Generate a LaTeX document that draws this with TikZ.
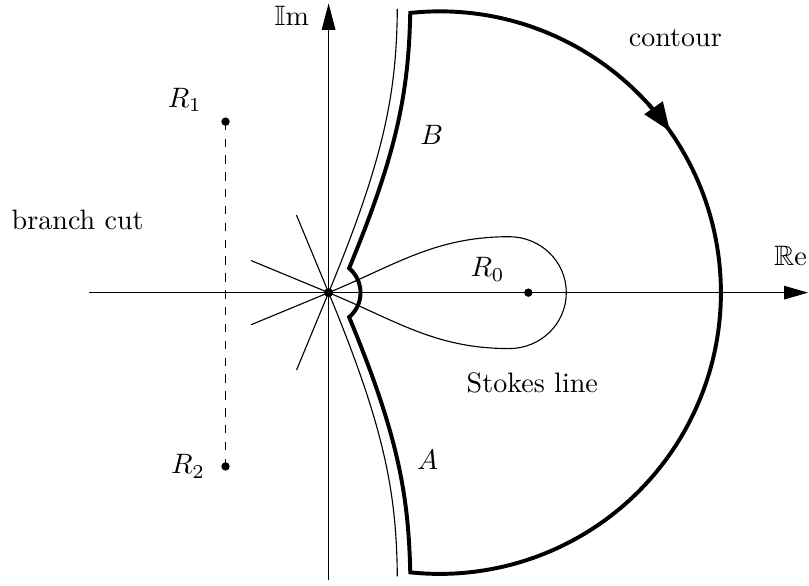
\documentclass[tikz,border=0pt]{standalone}
\usepackage{amsmath,amssymb}
\usetikzlibrary{arrows.meta,calc}

\begin{document}
\begin{tikzpicture}

% Parameters
\def\cx{1.39}   % centre of the big arc
\def\cR{3.52}   % radius of the big arc
\def\sr{0.4}    % radius of the small arc round the origin
\def\rl{1.05}   % length of the short Stokes rays

\useasboundingbox (-4.1125,-3.6625) rectangle (6.0125,3.6625);

% Axes
\draw[-{Triangle[length=0.3cm,width=0.17cm]}] (-3,0) -- (6,0);
\draw[-{Triangle[length=0.33cm,width=0.17cm]}] (0,-3.6) -- (0,3.62);
\node (re) at (5.78,0.46) {$\mathbb{R}\mathrm{e}$};
\node (im) at (-0.46,3.46) {$\mathbb{I}\mathrm{m}$};

% Stokes rays on the left
\foreach \a in {112.5,157.5,202.5,247.5}
  \draw (0,0) -- (\a:\rl);

% Stokes lines going up and down
\draw (0,0) .. controls (0.7,1.69) and (0.85,2.5) .. (0.86,3.55);
\draw (0,0) .. controls (0.7,-1.69) and (0.85,-2.5) .. (0.86,-3.55);

% Stokes loop round R0
\draw (0,0) to[out=22.5,in=180] (2.26,0.7) to[out=0,in=90] (2.975,0)
  to[out=-90,in=0] (2.26,-0.7) to[out=180,in=-22.5] (0,0);

% Contour
\draw[line width=1.4pt, line join=miter]
  ({\cx+\cR*cos(96)},{\cR*sin(96)})
  arc[start angle=96, end angle=-96, radius=\cR]
  .. controls (1.0,-2.5) and (0.857,-1.756) .. (-50:\sr)
  arc[start angle=-50, end angle=50, radius=\sr]
  .. controls (0.857,1.756) and (1.0,2.5) .. cycle;
\draw[line width=1.4pt, -{Triangle[length=0.36cm,width=0.27cm]}]
  ({\cx+\cR*cos(42)},{\cR*sin(42)}) arc[start angle=42, end angle=35, radius=\cR];

% Branch cut
\draw[dashed] (-1.29,2.14) -- (-1.29,-2.175);

% Points
\fill (0,0) circle (1.6pt);
\fill (2.5,0) circle (1.5pt);
\fill (-1.29,2.14) circle (1.5pt);
\fill (-1.29,-2.175) circle (1.5pt);

% Labels
\node (r0) at (1.99,0.29) {$R_0$};
\node (r1) at (-1.8,2.41) {$R_1$};
\node (r2) at (-1.76,-2.175) {$R_2$};
\node (b) at (1.29,1.975) {$B$};
\node (a) at (1.24,-2.09) {$A$};
\node (cut) at (-3.14,0.91) {branch cut};
\node (stokes) at (2.55,-1.125) {Stokes line};
\node (contour) at (4.34,3.19) {contour};

\end{tikzpicture}
\end{document}
